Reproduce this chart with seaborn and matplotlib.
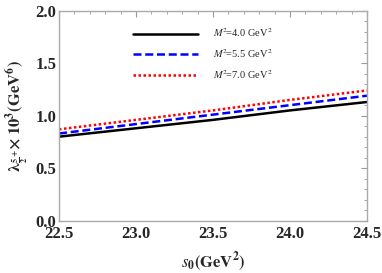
import matplotlib
matplotlib.use("Agg")
import matplotlib.pyplot as plt
import seaborn as sns
import pandas as pd
from matplotlib.ticker import MultipleLocator

s0 = [22.5, 23.0, 23.5, 24.0, 24.5]
lam_M4 = [0.80, 0.88, 0.96, 1.05, 1.13]
lam_M55 = [0.83, 0.92, 1.01, 1.10, 1.19]
lam_M7 = [0.87, 0.96, 1.05, 1.15, 1.24]
labels = [r'$M^2\!$=4.0 GeV$^2$', r'$M^2\!$=5.5 GeV$^2$', r'$M^2\!$=7.0 GeV$^2$']
colors = ['black', 'blue', 'red']
dashes = [(None, None), (3.2, 1.5), (1.0, 1.0)]

sns.set_theme(style="white")
plt.rcParams['font.family'] = ['Liberation Serif', 'DejaVu Serif']
plt.rcParams['mathtext.fontset'] = 'stix'

df = pd.DataFrame({
    's0': s0 * 3,
    'lam': lam_M4 + lam_M55 + lam_M7,
    'M': [labels[0]] * 5 + [labels[1]] * 5 + [labels[2]] * 5,
})

fig = plt.figure(figsize=(3.82, 2.73), dpi=100)
ax = fig.add_axes([0.1545, 0.1916, 0.806, 0.7694])

for lab, c, d in zip(labels, colors, dashes):
    sub = df[df['M'] == lab]
    line, = ax.plot(sub['s0'], sub['lam'], color=c, lw=1.8, label=lab)
    if d[0] is not None:
        line.set_dashes(d)

ax.set_xlim(22.5, 24.5)
ax.set_ylim(0, 2.0)
ax.xaxis.set_major_locator(MultipleLocator(0.5))
ax.xaxis.set_minor_locator(MultipleLocator(0.1))
ax.yaxis.set_major_locator(MultipleLocator(0.5))
ax.yaxis.set_minor_locator(MultipleLocator(0.1))
ax.tick_params(which='both', direction='in', top=True, right=True, color='#999999')
ax.tick_params(which='major', length=4, width=0.8, labelsize=12)
ax.tick_params(axis='x', which='major', pad=4)
ax.tick_params(axis='y', which='major', pad=2)
ax.tick_params(which='minor', length=2, width=0.6)
ax.xaxis.set_major_formatter(matplotlib.ticker.FormatStrFormatter('%.1f'))
ax.yaxis.set_major_formatter(matplotlib.ticker.FormatStrFormatter('%.1f'))
for lbl in ax.get_xticklabels() + ax.get_yticklabels():
    lbl.set_fontweight('bold')
for sp in ax.spines.values():
    sp.set_color('#aaaaaa')
    sp.set_linewidth(1.0)

ax.set_xlabel(r'$\mathbf{\mathit{s}_0(GeV^2)}$', fontsize=12, labelpad=6)
ax.set_ylabel(r'$\mathbf{\lambda_{\frac{5}{2}^{+}}\!\times 10^3(GeV^6)}$', fontsize=12, labelpad=3)

leg = ax.legend(loc='upper left', bbox_to_anchor=(0.21, 0.97), frameon=False,
                fontsize=7.5, handlelength=6.2, handletextpad=1.5, labelspacing=0.75)

fig.savefig('out.png', dpi=100)
